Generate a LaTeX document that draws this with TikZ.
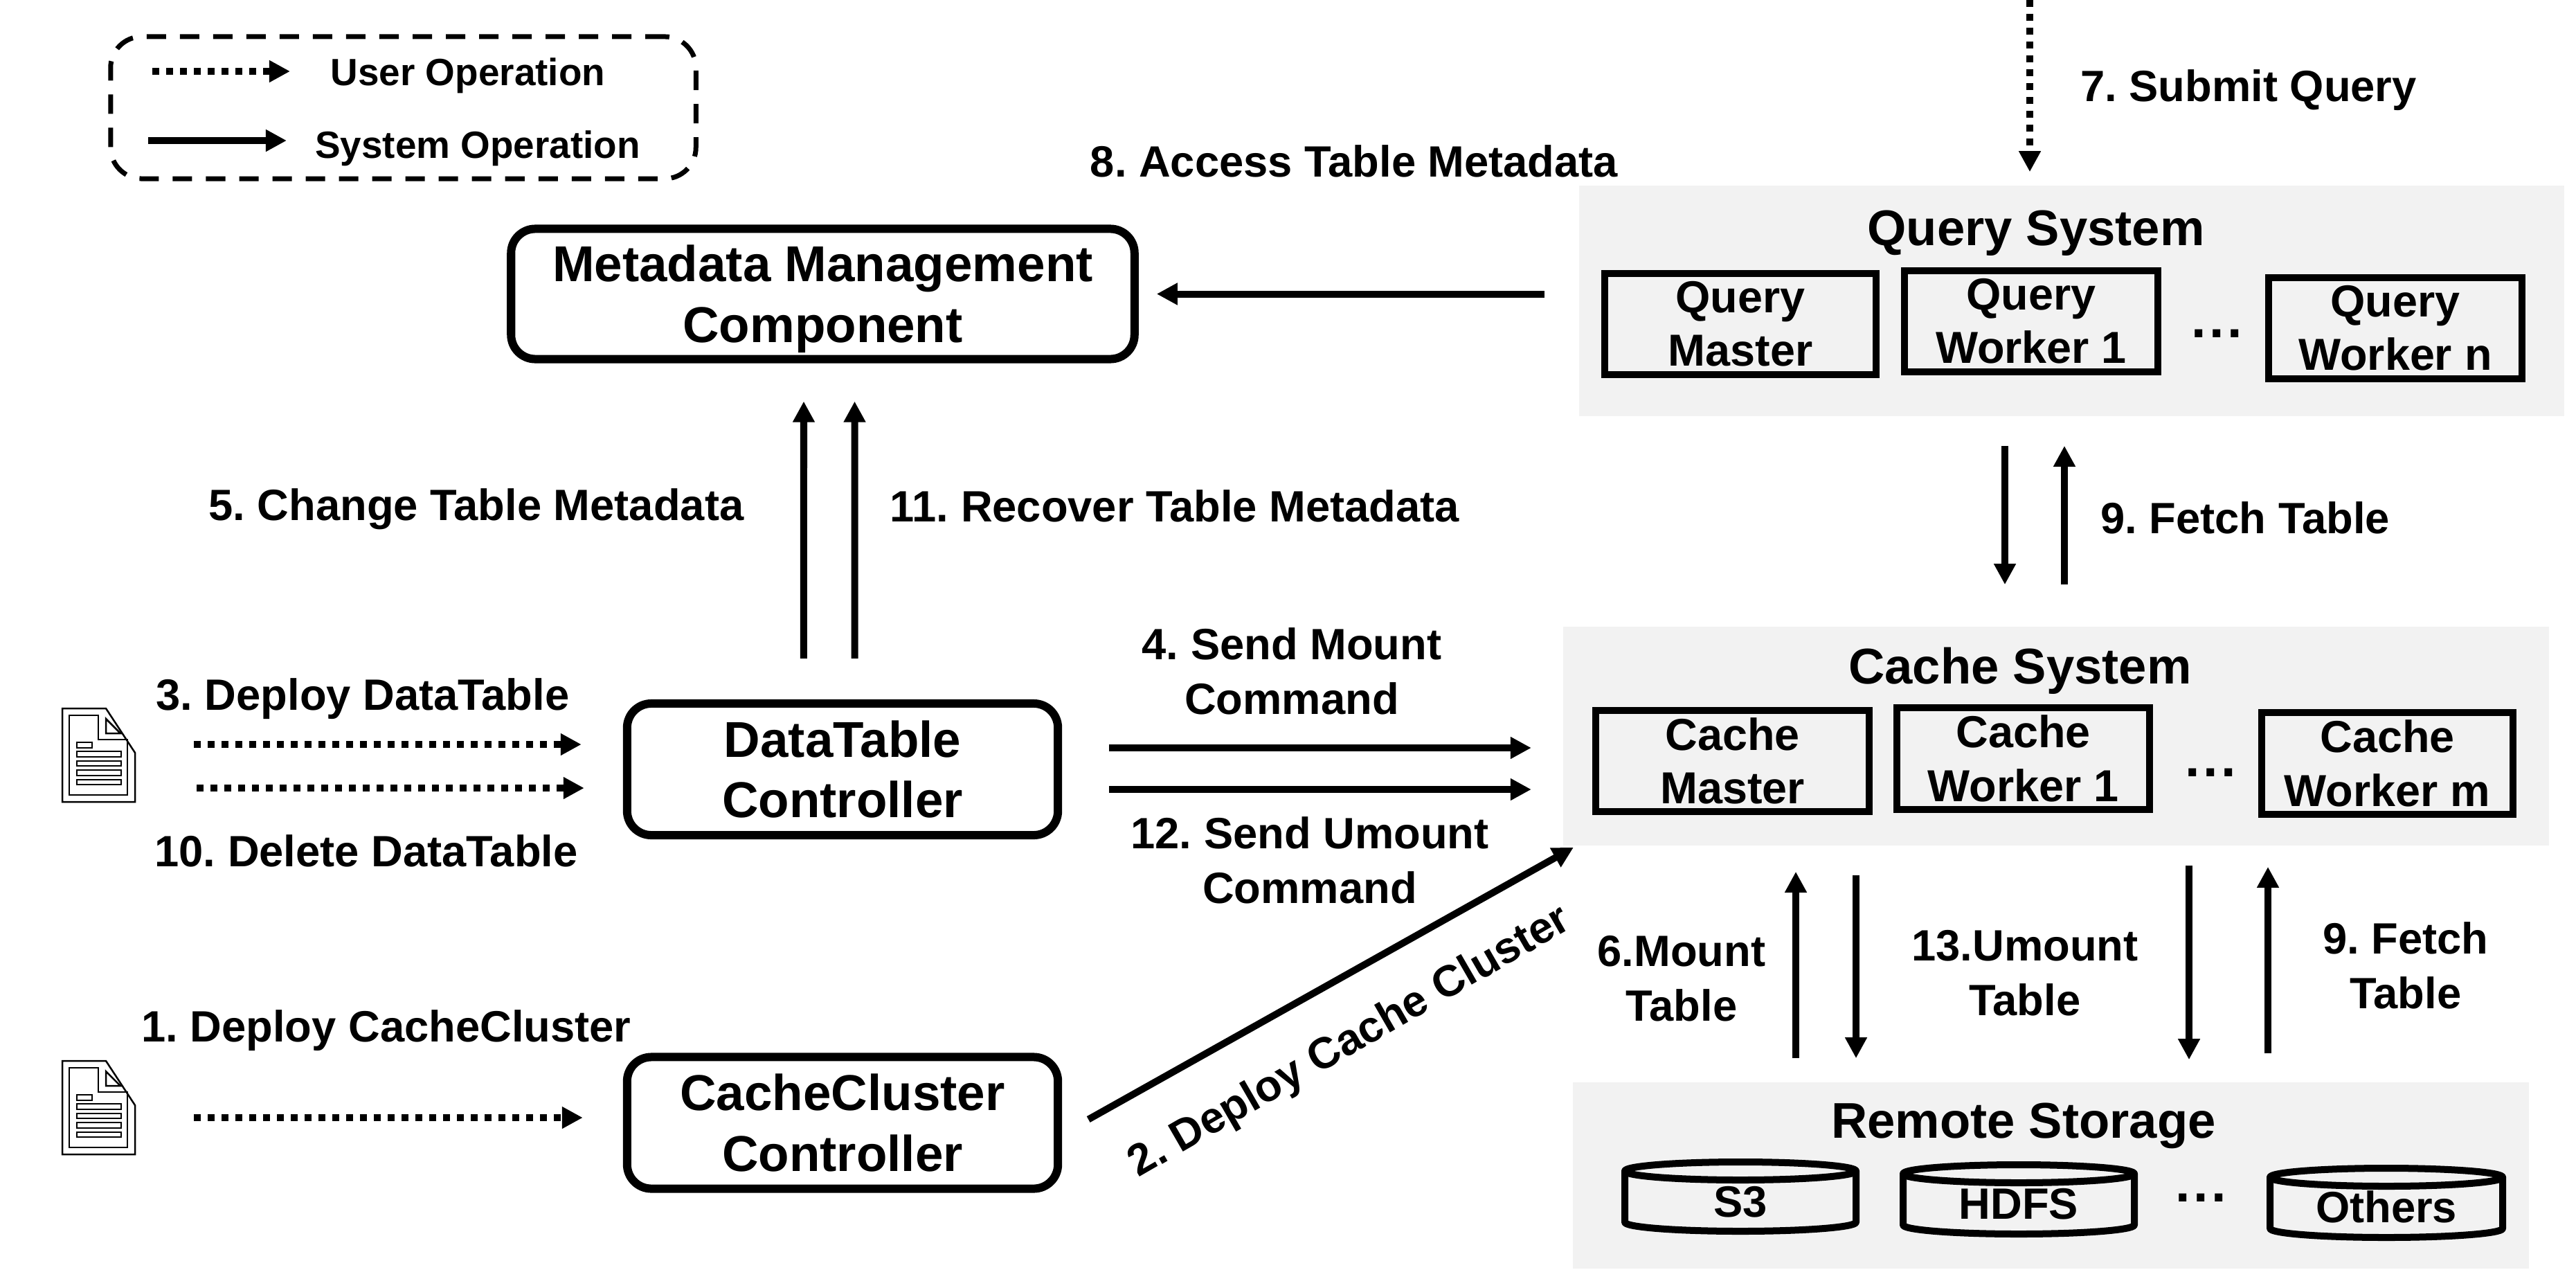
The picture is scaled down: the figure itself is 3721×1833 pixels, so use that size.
\documentclass[tikz,border=0pt]{standalone}
\usepackage{fontspec}
\setmainfont{Liberation Sans}
\usetikzlibrary{arrows.meta,calc}
\tikzset{
  lab/.style={font=\bfseries\fontsize{18}{26}\selectfont,inner sep=0pt,text height=13pt,text depth=0pt},
  lab2/.style={font=\bfseries\fontsize{18}{22.4}\selectfont,align=center,inner sep=0pt},
  title/.style={font=\bfseries\fontsize{20.6}{25}\selectfont,inner sep=0pt,text height=15pt,text depth=0pt},
  legendtxt/.style={font=\bfseries\fontsize{15.6}{18}\selectfont,inner sep=0pt,text height=11.2pt,text depth=0pt},
  bigbox/.style={draw=black,line width=0.12cm,rounded corners=0.35cm,fill=white,align=center,font=\bfseries\fontsize{20.7}{25}\selectfont,inner sep=0pt},
  wbox/.style={draw=black,line width=0.1cm,fill=none,align=center,font=\bfseries\fontsize{18.4}{22}\selectfont,inner sep=0pt},
  panel/.style={fill=black!5,draw=none,inner sep=0pt},
  legendbox/.style={draw=black,line width=0.07cm,rounded corners=0.45cm,dash pattern=on 0.28cm off 0.2cm,fill=none,inner sep=0pt},
  sys/.style={draw=black,line width=0.1cm,-{Triangle[length=0.3cm,width=0.3cm]}},
  usr/.style={draw=black,line width=0.1cm,dash pattern=on 0.1cm off 0.1cm,-{Triangle[length=0.3cm,width=0.3cm]}},
  dots/.style={font=\bfseries\fontsize{22}{24}\selectfont,inner sep=0pt},
  cyllab/.style={font=\bfseries\fontsize{18}{22}\selectfont,inner sep=0pt,text height=13pt,text depth=0pt},
  cylline/.style={draw=black,line width=0.1cm,line cap=round,line join=round},
  fileline/.style={draw=black,line width=0.025cm}
}
\newcommand{\spdots}{.\kern1.3pt.\kern1.3pt.}
% \cyldraw{name}{cx}{top}{half width}{bottom}{text}{text y}
\newcommand{\cyldraw}[7]{%
  \draw[cylline] (#2,#3+18) ellipse [x radius={(#4-5)*0.01cm},y radius=0.13cm];
  \draw[cylline] ({#2-#4+5},{#3+18}) -- ({#2-#4+5},{#5-18})
     arc [start angle=180,end angle=360,x radius={(#4-5)*0.01cm},y radius=0.13cm] -- ({#2+#4-5},{#3+18});
  \node[cyllab] (#1) at (#2,#7) {#6};
}
% \fileicon{x}{y}
\newcommand{\fileicon}[2]{%
  \begin{scope}[shift={(#1,#2)}]
    \draw[fileline] (0,0) -- (63,0) -- (105,64) -- (105,135) -- (0,135) -- cycle;
    \draw[fileline] (10,10) -- (52,10) -- (52,45) -- (94,45) -- (94,125) -- (10,125) -- cycle;
    \draw[fileline] (63,15) -- (84,36) -- (63,36) -- cycle;
    \draw[fileline] (21,49) rectangle (43,57);
    \draw[fileline] (21,62) rectangle (85,70);
    \draw[fileline] (21,76) rectangle (85,83);
    \draw[fileline] (21,89) rectangle (85,97);
    \draw[fileline] (21,103) rectangle (85,110);
  \end{scope}%
}
\begin{document}
\frenchspacing
\begin{tikzpicture}[x=0.01cm,y=-0.01cm]
\useasboundingbox (0,0) rectangle (3721,1833);

% panels
\node[panel,minimum width=14.23cm,minimum height=3.33cm] (qs) at (2992.5,434.5) {};
\node[panel,minimum width=14.24cm,minimum height=3.16cm] (cs) at (2970,1063) {};
\node[panel,minimum width=13.81cm,minimum height=2.69cm] (rs) at (2962.5,1697.5) {};

% titles
\node[title] (qst) at (2941,328) {Query System};
\node[title] (cst) at (2918,961) {Cache System};
\node[title] (rst) at (2923,1617) {Remote Storage};

% legend
\node[legendbox,minimum width=8.45cm,minimum height=2.05cm] (leg) at (582.5,155.5) {};
\coordinate (lu1) at (220,103); \coordinate (lu2) at (419,103);
\coordinate (ls1) at (214,203); \coordinate (ls2) at (414,203);
\draw[usr] (lu1) -- (lu2);
\draw[sys] (ls1) -- (ls2);
\node[legendtxt] (lut) at (676,104) {User Operation};
\node[legendtxt] (lst) at (690,209) {System Operation};

% controllers
\node[bigbox,minimum width=9.0cm,minimum height=1.88cm] (meta) at (1188.5,424.5) {\rule{0pt}{19pt}Metadata Management\\Component};
\node[bigbox,minimum width=6.22cm,minimum height=1.9cm] (dt) at (1217,1111) {DataTable\\Controller};
\node[bigbox,minimum width=6.22cm,minimum height=1.9cm] (cc) at (1217,1621.5) {CacheCluster\\Controller};

% query boxes
\node[wbox,minimum width=3.92cm,minimum height=1.46cm] (qm) at (2514,468) {Query\\Master};
\node[wbox,minimum width=3.65cm,minimum height=1.46cm] (q1) at (2934,464) {Query\\Worker 1};
\node[wbox,minimum width=3.65cm,minimum height=1.46cm] (qn) at (3460,474) {Query\\Worker n};
\node[dots] (qd) at (3202,482) {\spdots};

% cache boxes
\node[wbox,minimum width=3.95cm,minimum height=1.46cm] (cm) at (2502.5,1099) {Cache\\Master};
\node[wbox,minimum width=3.65cm,minimum height=1.47cm] (c1) at (2922.5,1095.5) {Cache\\Worker 1};
\node[wbox,minimum width=3.63cm,minimum height=1.47cm] (cn) at (3448.5,1102.5) {Cache\\Worker m};
\node[dots] (cd) at (3193,1116) {\spdots};

% storage
\cyldraw{s3}{2514}{1673}{172}{1783}{S3}{1735}
\cyldraw{hdfs}{2916}{1677}{172}{1787}{HDFS}{1738}
\cyldraw{oth}{3447}{1682}{173}{1792}{Others}{1743}
\node[dots] (rd) at (3179,1730) {\spdots};

% file icons
\fileicon{90}{1023}
\fileicon{90}{1532}
\coordinate (f1a) at (280,1075); \coordinate (f1b) at (284,1138); \coordinate (f2) at (280,1614);

% connectors
\coordinate (top) at (2932,0);
\draw[usr,shorten >=0.19cm] (top) -- (qs.north -| top);
\draw[sys,shorten <=0.49cm,shorten >=0.26cm] (qs.west |- meta.east) -- (meta.east);
\draw[sys,shorten <=0.59cm,shorten >=0.55cm] ([xshift=-0.56cm]dt.north) -- ([xshift=-0.275cm]meta.south);
\draw[sys,shorten <=0.59cm,shorten >=0.55cm] ([xshift=0.175cm]dt.north) -- ([xshift=0.46cm]meta.south);
\draw[usr,shorten >=0.6cm] (f1a) -- (f1a -| dt.west);
\draw[usr,shorten >=0.56cm] (f1b) -- (f1b -| dt.west);
\draw[usr,shorten >=0.58cm] (f2) -- (f2 -| cc.west);
\draw[sys,shorten <=0.68cm,shorten >=0.45cm] ([yshift=0.31cm]dt.east) -- ([yshift=0.31cm]dt.east -| cs.west);
\draw[sys,shorten <=0.68cm,shorten >=0.45cm] ([yshift=-0.29cm]dt.east) -- ([yshift=-0.29cm]dt.east -| cs.west);
\draw[sys] ($(cc.east)+(38,-5)$) -- ($(cs.south west)+(16,2)$);
\coordinate (xa) at (2896,0); \coordinate (xb) at (2982,0);
\coordinate (xc) at (2594,0); \coordinate (xd) at (2681,0);
\coordinate (xe) at (3162,0); \coordinate (xf) at (3276,0);
\draw[sys,shorten <=0.42cm,shorten >=0.6cm] (qs.south -| xa) -- (cs.north -| xa);
\draw[sys,shorten <=0.6cm,shorten >=0.42cm] (cs.north -| xb) -- (qs.south -| xb);
\draw[sys,shorten <=0.34cm,shorten >=0.37cm] (rs.north -| xc) -- (cs.south -| xc);
\draw[sys,shorten <=0.42cm,shorten >=0.34cm] (cs.south -| xd) -- (rs.north -| xd);
\draw[sys,shorten <=0.28cm,shorten >=0.32cm] (cs.south -| xe) -- (rs.north -| xe);
\draw[sys,shorten <=0.41cm,shorten >=0.3cm] (rs.north -| xf) -- (cs.south -| xf);

% labels
\node[lab] (l7) at (3248,124) {7. Submit Query};
\node[lab] (l8) at (1956,233) {8. Access Table Metadata};
\node[lab] (l5) at (688,729) {5. Change Table Metadata};
\node[lab] (l11) at (1697,731) {11. Recover Table Metadata};
\node[lab] (l3) at (524,1003) {3. Deploy DataTable};
\node[lab] (l10) at (529,1229) {10. Delete DataTable};
\node[lab] (l1) at (558,1482) {1. Deploy CacheCluster};
\node[lab2] (l4) at (1866,969) {4. Send Mount\\Command};
\node[lab2] (l12) at (1892,1242) {12. Send Umount\\Command};
\node[lab,rotate=30] (l2) at (1947,1500) {2. Deploy Cache Cluster};
\node[lab] (l9a) at (3243,748) {9. Fetch Table};
\node[lab2] (l6) at (2429,1413) {6.Mount\\Table};
\node[lab2] (l13) at (2925,1405) {13.Umount\\Table};
\node[lab2] (l9b) at (3475,1394) {9. Fetch\\Table};
\end{tikzpicture}
\end{document}
